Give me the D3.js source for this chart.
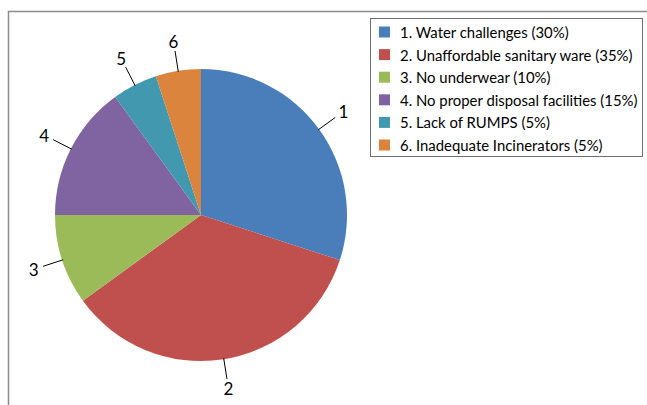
<!DOCTYPE html>
<html><head><meta charset="utf-8">
<script src="https://cdn.jsdelivr.net/npm/d3@7"></script>
<style>
html,body{margin:0;padding:0;background:#fff;}
svg{display:block;}
text{font-family:Lato,"Liberation Sans",sans-serif;fill:#000;}
</style></head>
<body>
<svg id="chart" width="647" height="405"></svg>
<script>
const categories = ["1. Water challenges","2. Unaffordable sanitary ware","3. No underwear","4. No proper disposal facilities","5. Lack of RUMPS","6. Inadequate Incinerators"];
const shortLabels = ["1","2","3","4","5","6"];
const values = [30,35,10,15,5,5];
const colors = ["#4A7EBB","#C0504D","#9BBB59","#8064A2","#4198AF","#DB843D"];

const svg = d3.select("#chart");
const W = 647, H = 405;

// outer frame (top and left edges visible)
svg.append("path")
  .attr("d", `M8.5,${H} L8.5,11.5 L${W},11.5`)
  .attr("fill","none").attr("stroke","#8c8c8c").attr("stroke-width",1.5);

const cx = 201, cy = 215, r = 146;
const g = svg.append("g").attr("transform",`translate(${cx},${cy})`);

const pie = d3.pie().sort(null).value(d => d.v);
const data = values.map((v,i)=>({v, i}));
const arcs = pie(data);
const arc = d3.arc().innerRadius(0).outerRadius(r);

g.selectAll("path.slice").data(arcs).enter().append("path")
  .attr("class","slice")
  .attr("d", arc)
  .attr("fill", d => colors[d.data.i]);

const mid = d => (d.startAngle + d.endAngle)/2;
const pt = (a, rad) => [Math.sin(a)*rad, -Math.cos(a)*rad];

g.selectAll("line.lead").data(arcs).enter().append("line")
  .attr("class","lead")
  .attr("x1", d => pt(mid(d), r-1)[0]).attr("y1", d => pt(mid(d), r-1)[1])
  .attr("x2", d => pt(mid(d), r+20)[0]).attr("y2", d => pt(mid(d), r+20)[1])
  .attr("stroke","#000").attr("stroke-width",1);

g.selectAll("text.lbl").data(arcs).enter().append("text")
  .attr("class","lbl")
  .attr("x", d => pt(mid(d), r+30)[0])
  .attr("y", d => pt(mid(d), r+30)[1])
  .attr("text-anchor","middle").attr("dominant-baseline","central")
  .attr("font-size",17)
  .text(d => shortLabels[d.data.i]);

// legend
const lg = svg.append("g");
lg.append("rect").attr("x",370.5).attr("y",18.5).attr("width",272).attr("height",138)
  .attr("fill","#fff").attr("stroke","#6e6e6e").attr("stroke-width",1);
const rowY = d3.scalePoint().domain(d3.range(categories.length)).range([32,145]);
const items = lg.selectAll("g.item").data(categories).enter().append("g").attr("class","item")
  .attr("transform",(d,i)=>`translate(0,${rowY(i)})`);
items.append("rect").attr("x",379).attr("y",-5.5).attr("width",11).attr("height",11)
  .attr("fill",(d,i)=>colors[i]);
items.append("text").attr("x",400).attr("y",0).attr("dominant-baseline","central")
  .attr("font-size",14.9)
  .text((d,i)=>`${d} (${values[i]}%)`);
</script>
</body></html>
